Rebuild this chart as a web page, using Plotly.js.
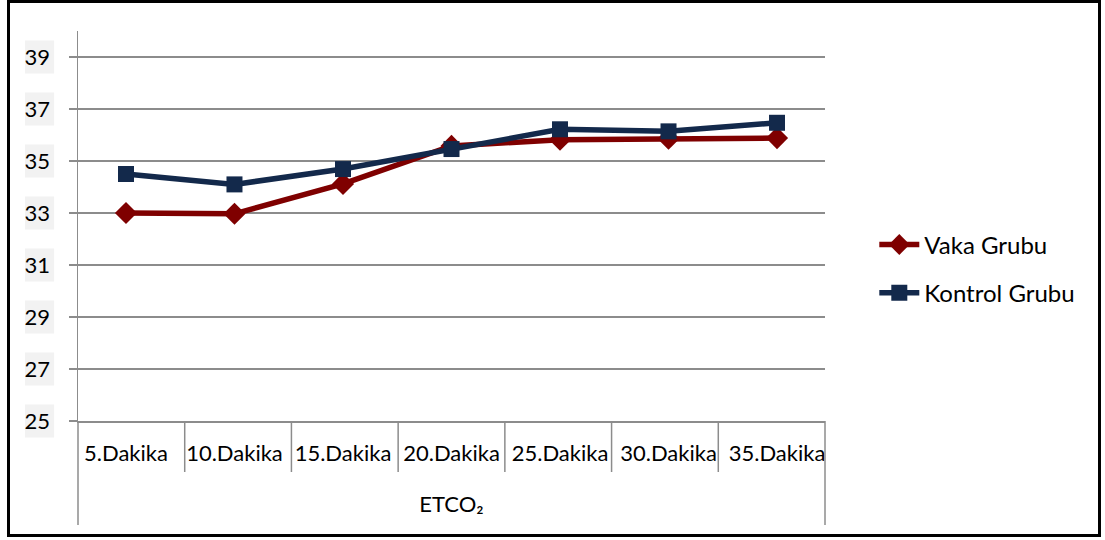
<!DOCTYPE html>
<html><head><meta charset="utf-8">
<script src="https://cdn.plot.ly/plotly-3.0.1.min.js"></script>
<style>
html,body{margin:0;padding:0;background:#fff;}
#frame{position:absolute;left:7px;top:0px;width:1088px;height:531px;border:3px solid #000;}
#chart{position:absolute;left:0;top:0;width:1105px;height:540px;}
</style></head><body>
<div id="frame"></div>
<div id="chart"></div>
<script>
const groupLabel = 'ETCO\u2082';
const categories = ['5.Dakika','10.Dakika','15.Dakika','20.Dakika','25.Dakika','30.Dakika','35.Dakika'];
const vakaGrubu = [33.0, 32.97, 34.12, 35.58, 35.82, 35.86, 35.88];
const kontrolGrubu = [34.5, 34.1, 34.69, 35.46, 36.22, 36.14, 36.47];
const yTicks = [25, 27, 29, 31, 33, 35, 37, 39];

const font = 'Lato, "Open Sans", sans-serif';
const gray = '#8c8c8c';

const traces = [
  {x: categories, y: vakaGrubu, name: 'Vaka Grubu', legendgroup: 'g1', mode: 'lines+markers', type: 'scatter',
   line: {color: '#7f0000', width: 5.5}, marker: {symbol: 'diamond', size: 17, color: '#7f0000'}},
  {x: categories, y: kontrolGrubu, name: 'Kontrol Grubu', legendgroup: 'g2', mode: 'lines+markers', type: 'scatter',
   line: {color: '#13294b', width: 5.5}, marker: {symbol: 'square', size: 16, color: '#13294b'}}
];

const ymin = 25, ymax = 40;
const plotH = 540 - 31 - 119;
const shapes = yTicks.map(v => ({
  type: 'rect', xref: 'paper', yref: 'paper', layer: 'below',
  x0: -0.071, x1: -0.032,
  y0: (v - ymin) / (ymax - ymin) - 0.042, y1: (v - ymin) / (ymax - ymin) + 0.042,
  fillcolor: '#f2f2f2', line: {width: 0}
}));
// category boundary ticks below the axis
for (let i = 0; i <= categories.length; i++) {
  const xp = i / categories.length;
  const ends = (i === 0 || i === categories.length);
  shapes.push({type: 'line', xref: 'paper', yref: 'paper', x0: xp, x1: xp,
    y0: 0, y1: ends ? -104 / plotH : -51 / plotH, line: {color: gray, width: 1.5}});
}

const layout = {
  width: 1105, height: 540,
  margin: {l: 78, r: 280, t: 31, b: 119},
  paper_bgcolor: 'rgba(0,0,0,0)', plot_bgcolor: 'rgba(0,0,0,0)',
  font: {family: font, size: 22, color: '#000'},
  showlegend: true,
  legend: {x: 1.066, y: 0.39, yanchor: 'middle', xanchor: 'left', font: {size: 24, color: '#000'},
           tracegroupgap: 14, itemwidth: 40},
  xaxis: {type: 'category', showgrid: false, showline: true, linecolor: gray, linewidth: 1.5,
          ticks: '', ticklabelstandoff: 12, tickfont: {size: 22, color: '#000'}, zeroline: false,
          title: {text: groupLabel, standoff: 31, font: {size: 22, color: '#000'}}},
  yaxis: {range: [ymin, ymax], tickvals: yTicks, showgrid: true, gridcolor: gray, gridwidth: 1.5,
          showline: true, linecolor: gray, linewidth: 1.5, ticks: 'outside', ticklen: 8,
          tickcolor: gray, tickwidth: 1.5, zeroline: false, ticklabelstandoff: 14,
          tickfont: {size: 22, color: '#000'}},
  shapes: shapes
};

Plotly.newPlot('chart', traces, layout, {displayModeBar: false, staticPlot: true});
</script>
</body></html>
